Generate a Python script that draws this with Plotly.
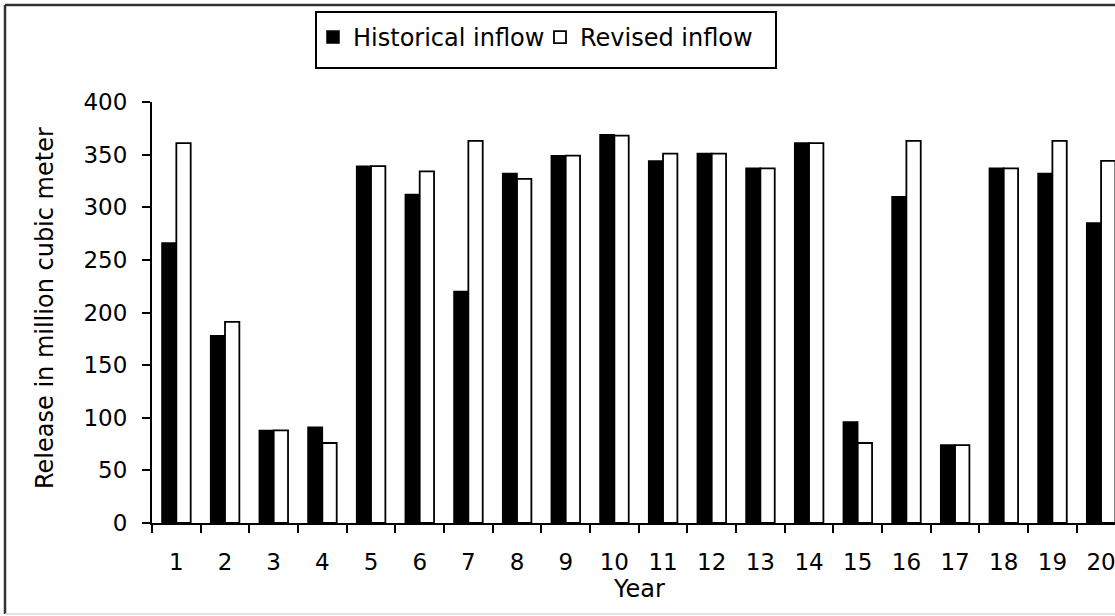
import plotly.graph_objects as go

years = [str(i) for i in range(1, 21)]
historical = [266, 178, 88, 91, 339, 312, 220, 332, 349, 369, 344, 351, 337, 361, 96, 310, 74, 337, 332, 285]
revised = [361, 191, 88, 76, 339, 334, 363, 327, 349, 368, 351, 351, 337, 361, 76, 363, 74, 337, 363, 344]
y_ticks = [0, 50, 100, 150, 200, 250, 300, 350, 400]

FONT = "DejaVu Sans"
W, H = 1115, 616
L, R, T, B = 152, 0, 102, 93
pw = W - L - R
ph = H - T - B
cat_px = 48.67
x_hi = -0.5 + pw / cat_px


def px_x(p):
    return (p - L) / pw


def px_y(p):
    return (H - B - p) / ph


fig = go.Figure()
fig.add_trace(go.Bar(
    x=years, y=historical, name="Historical inflow",
    marker=dict(color="black", line=dict(color="black", width=1.5)),
))
fig.add_trace(go.Bar(
    x=years, y=revised, name="Revised inflow",
    marker=dict(color="white", line=dict(color="black", width=1.8)),
))

fig.update_layout(
    width=W, height=H,
    margin=dict(l=L, r=R, t=T, b=B, pad=0),
    paper_bgcolor="white", plot_bgcolor="white",
    font=dict(family=FONT, size=24, color="black"),
    barmode="group", bargap=0.41, bargroupgap=0,
    showlegend=True,
    legend=dict(
        orientation="h", x=px_x(313), y=px_y(15), xanchor="left", yanchor="top",
        bgcolor="rgba(0,0,0,0)", borderwidth=0,
        font=dict(family=FONT, size=24, color="black"),
        itemwidth=30, traceorder="normal",
        entrywidth=182, entrywidthmode="pixels",
    ),
    xaxis=dict(
        type="category", range=[-0.5, x_hi],
        showline=True, linecolor="black", linewidth=2,
        ticks="outside", tickson="boundaries", ticklen=8, tickwidth=2, tickcolor="black",
        showgrid=False, zeroline=False,
        tickfont=dict(family=FONT, size=23, color="black"),
        ticklabelstandoff=17,
    ),
    yaxis=dict(
        range=[0, 400], tickvals=y_ticks,
        showline=True, linecolor="black", linewidth=2,
        ticks="outside", ticklen=8, tickwidth=2, tickcolor="black",
        showgrid=False, zeroline=False,
        tickfont=dict(family=FONT, size=23, color="black"),
        ticklabelstandoff=10,
    ),
    annotations=[
        dict(text="Year", xref="paper", yref="paper", x=px_x(639), y=px_y(589),
             xanchor="center", yanchor="middle", showarrow=False,
             font=dict(family=FONT, size=24, color="black")),
        dict(text="Release in million cubic meter", xref="paper", yref="paper",
             x=px_x(45), y=px_y(308), xanchor="center", yanchor="middle",
             textangle=-90, showarrow=False,
             font=dict(family=FONT, size=24, color="black")),
    ],
    shapes=[
        # legend box
        dict(type="rect", xref="paper", yref="paper",
             x0=px_x(316), x1=px_x(776), y0=px_y(68), y1=px_y(12),
             line=dict(color="black", width=2), fillcolor="rgba(0,0,0,0)", layer="above"),
        # outer frame
        dict(type="line", xref="paper", yref="paper",
             x0=px_x(5), x1=px_x(1120), y0=px_y(5), y1=px_y(5),
             line=dict(color="#333333", width=2.5)),
        dict(type="line", xref="paper", yref="paper",
             x0=px_x(5), x1=px_x(5), y0=px_y(5), y1=px_y(614),
             line=dict(color="#333333", width=2.5)),
        dict(type="line", xref="paper", yref="paper",
             x0=px_x(5), x1=px_x(1120), y0=px_y(614), y1=px_y(614),
             line=dict(color="#d8d8d8", width=1.5)),
    ],
)

fig.write_html("out.html")
